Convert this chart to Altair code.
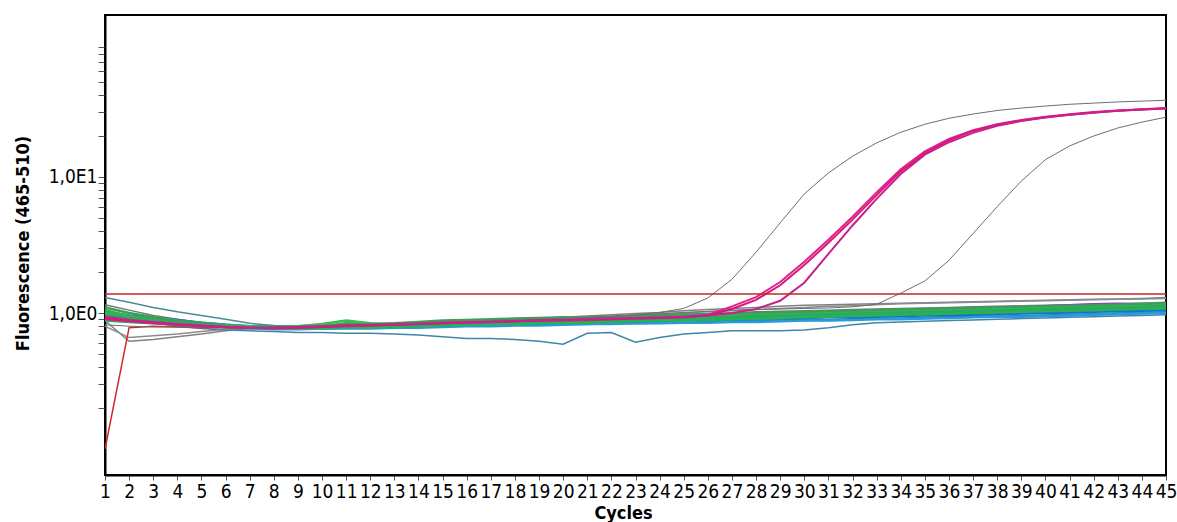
import altair as alt
import pandas as pd

cycles = list(range(1, 46))

series_values = {
    # gray / teal baseline curves (drawn first)
    "Y1": [0.88,0.62,0.64,0.67,0.70,0.74,0.77,0.78,0.79,0.80,
           0.81,0.82,0.83,0.84,0.86,0.87,0.88,0.89,0.91,0.93,
           0.95,0.97,0.99,1.01,1.04,1.06,1.08,1.10,1.12,1.14,
           1.15,1.16,1.17,1.18,1.19,1.20,1.21,1.22,1.23,1.24,
           1.25,1.26,1.27,1.28,1.30],
    "Y2": [0.80,0.66,0.68,0.70,0.73,0.76,0.78,0.79,0.80,0.81,
           0.82,0.83,0.84,0.85,0.86,0.87,0.88,0.89,0.90,0.91,
           0.92,0.94,0.96,0.98,1.00,1.02,1.04,1.06,1.08,1.10,
           1.12,1.13,1.15,1.17,1.18,1.19,1.20,1.21,1.22,1.23,
           1.24,1.25,1.26,1.27,1.28],
    "Y3": [1.15,1.05,0.96,0.90,0.85,0.81,0.79,0.79,0.80,0.81,
           0.82,0.83,0.84,0.85,0.87,0.88,0.89,0.90,0.91,0.92,
           0.93,0.94,0.95,0.97,0.98,0.99,1.00,1.02,1.03,1.04,
           1.05,1.06,1.07,1.08,1.09,1.10,1.11,1.12,1.13,1.14,
           1.15,1.16,1.17,1.18,1.20],
    "T1": [1.30,1.20,1.10,1.02,0.96,0.90,0.84,0.81,0.80,0.80,
           0.81,0.82,0.83,0.84,0.86,0.87,0.88,0.89,0.90,0.91,
           0.92,0.93,0.94,0.95,0.96,0.97,0.98,0.99,1.00,1.01,
           1.02,1.03,1.04,1.05,1.06,1.07,1.08,1.09,1.10,1.11,
           1.12,1.13,1.14,1.16,1.18],
    "T2": [1.00,0.92,0.85,0.80,0.77,0.75,0.74,0.73,0.72,0.72,
           0.71,0.71,0.70,0.69,0.67,0.65,0.65,0.64,0.62,0.59,
           0.71,0.72,0.61,0.66,0.70,0.72,0.74,0.74,0.74,0.75,
           0.78,0.82,0.85,0.86,0.87,0.88,0.89,0.90,0.91,0.92,
           0.93,0.94,0.95,0.96,0.97],
    # blue curves
    "B1": [0.98,0.94,0.90,0.86,0.82,0.79,0.78,0.77,0.77,0.77,
           0.78,0.78,0.78,0.79,0.80,0.81,0.81,0.82,0.82,0.83,
           0.83,0.84,0.84,0.85,0.85,0.86,0.87,0.87,0.88,0.89,
           0.89,0.90,0.91,0.91,0.92,0.93,0.94,0.94,0.95,0.96,
           0.97,0.98,0.99,1.00,1.01],
    "B2": [0.92,0.88,0.85,0.83,0.81,0.79,0.77,0.76,0.76,0.77,
           0.77,0.77,0.78,0.78,0.79,0.80,0.80,0.81,0.81,0.82,
           0.83,0.83,0.84,0.84,0.85,0.85,0.86,0.86,0.87,0.88,
           0.88,0.89,0.90,0.90,0.91,0.92,0.93,0.94,0.94,0.95,
           0.96,0.97,0.98,0.99,1.00],
    "B3": [1.02,0.96,0.92,0.89,0.85,0.82,0.80,0.79,0.79,0.79,
           0.80,0.80,0.81,0.82,0.83,0.83,0.84,0.84,0.85,0.86,
           0.86,0.87,0.87,0.88,0.89,0.89,0.90,0.91,0.91,0.92,
           0.93,0.93,0.94,0.95,0.96,0.96,0.97,0.98,0.99,1.00,
           1.01,1.02,1.03,1.04,1.05],
    "P1": [0.90,0.88,0.86,0.84,0.82,0.80,0.79,0.78,0.79,0.80,
           0.81,0.81,0.82,0.83,0.85,0.86,0.86,0.87,0.88,0.89,
           0.90,0.90,0.91,0.92,0.93,0.94,0.95,0.96,0.97,0.98,
           0.99,1.00,1.01,1.02,1.03,1.04,1.06,1.08,1.10,1.12,
           1.14,1.16,1.17,1.16,1.15],
    "R1": [0.10,0.78,0.80,0.79,0.78,0.78,0.78,0.78,0.79,0.80,
           0.81,0.80,0.81,0.82,0.84,0.85,0.85,0.86,0.87,0.88,
           0.88,0.89,0.90,0.91,0.92,0.93,0.94,0.95,0.96,0.97,
           0.98,0.99,1.00,1.01,1.02,1.03,1.04,1.05,1.06,1.07,
           1.08,1.09,1.10,1.11,1.12],
    # green curves
    "G1": [1.05,0.95,0.90,0.86,0.83,0.80,0.79,0.78,0.78,0.79,
           0.80,0.80,0.81,0.82,0.84,0.85,0.85,0.86,0.86,0.87,
           0.88,0.88,0.89,0.90,0.91,0.92,0.93,0.94,0.95,0.96,
           0.97,0.98,0.99,1.00,1.01,1.02,1.03,1.04,1.05,1.06,
           1.07,1.08,1.09,1.10,1.11],
    "G2": [0.95,0.90,0.87,0.84,0.82,0.80,0.79,0.79,0.80,0.81,
           0.82,0.82,0.83,0.85,0.86,0.87,0.88,0.88,0.89,0.90,
           0.91,0.91,0.92,0.93,0.94,0.95,0.96,0.97,0.98,0.99,
           1.00,1.01,1.02,1.03,1.04,1.05,1.06,1.07,1.08,1.09,
           1.10,1.11,1.12,1.14,1.15],
    "G3": [1.10,1.00,0.93,0.88,0.85,0.82,0.80,0.79,0.79,0.80,
           0.84,0.83,0.84,0.86,0.88,0.89,0.90,0.91,0.92,0.93,
           0.93,0.94,0.95,0.96,0.97,0.98,0.99,1.00,1.01,1.02,
           1.03,1.04,1.05,1.06,1.07,1.08,1.09,1.10,1.11,1.12,
           1.13,1.14,1.15,1.17,1.18],
    "G4": [0.88,0.86,0.84,0.82,0.80,0.79,0.78,0.77,0.77,0.77,
           0.78,0.78,0.79,0.80,0.81,0.82,0.83,0.83,0.84,0.85,
           0.85,0.86,0.87,0.88,0.88,0.89,0.90,0.91,0.92,0.93,
           0.94,0.95,0.96,0.97,0.98,0.99,1.00,1.01,1.02,1.03,
           1.04,1.05,1.06,1.07,1.08],
    "G5": [1.00,0.93,0.88,0.84,0.81,0.80,0.79,0.78,0.80,0.83,
           0.88,0.84,0.82,0.83,0.85,0.86,0.87,0.87,0.88,0.89,
           0.90,0.90,0.91,0.92,0.93,0.94,0.95,0.96,0.97,0.98,
           0.99,1.00,1.01,1.02,1.03,1.04,1.05,1.06,1.07,1.08,
           1.09,1.10,1.11,1.12,1.13],
    "G6": [0.98,0.92,0.88,0.85,0.82,0.80,0.78,0.78,0.79,0.80,
           0.81,0.81,0.82,0.83,0.85,0.86,0.86,0.87,0.87,0.88,
           0.89,0.89,0.90,0.91,0.92,0.93,0.94,0.95,0.96,0.97,
           0.98,0.99,1.00,1.01,1.02,1.03,1.04,1.05,1.06,1.07,
           1.08,1.09,1.10,1.11,1.13],
    # amplifying curves
    "A1": [0.95,0.90,0.86,0.83,0.81,0.79,0.78,0.78,0.79,0.80,
           0.81,0.81,0.82,0.83,0.85,0.86,0.87,0.88,0.89,0.90,
           0.92,0.94,0.97,1.01,1.08,1.29,1.77,2.80,4.60,7.50,
           10.7,14.2,17.8,21.3,24.4,27.0,29.0,30.8,32.1,33.2,
           34.2,34.9,35.6,36.1,36.6],
    "A2": [0.82,0.80,0.79,0.79,0.78,0.78,0.78,0.79,0.80,0.81,
           0.82,0.83,0.84,0.85,0.86,0.87,0.88,0.89,0.90,0.91,
           0.93,0.95,0.97,0.99,1.01,1.03,1.05,1.06,1.07,1.08,
           1.09,1.11,1.16,1.40,1.72,2.44,3.84,6.05,9.33,13.4,
           16.9,20.0,22.9,25.3,27.5],
    "M1": [0.92,0.88,0.85,0.82,0.80,0.79,0.78,0.78,0.78,0.79,
           0.81,0.81,0.82,0.83,0.85,0.86,0.86,0.87,0.88,0.89,
           0.90,0.90,0.91,0.92,0.93,0.97,1.12,1.31,1.69,2.38,
           3.46,5.10,7.70,11.4,15.4,19.0,22.1,24.4,26.2,27.7,
           28.9,30.0,30.8,31.5,32.1],
    "M2": [0.90,0.87,0.84,0.82,0.80,0.79,0.78,0.77,0.78,0.79,
           0.80,0.81,0.82,0.83,0.84,0.85,0.86,0.87,0.88,0.88,
           0.89,0.90,0.91,0.92,0.93,0.96,1.07,1.25,1.60,2.25,
           3.28,4.86,7.35,11.0,14.9,18.6,21.8,24.2,26.0,27.5,
           28.7,29.8,30.6,31.3,31.9],
    "M3": [0.94,0.89,0.86,0.83,0.81,0.79,0.78,0.78,0.79,0.80,
           0.81,0.82,0.82,0.83,0.84,0.85,0.86,0.87,0.88,0.89,
           0.90,0.91,0.92,0.93,0.94,0.96,1.00,1.07,1.23,1.67,
           2.72,4.40,6.90,10.5,14.6,18.0,21.1,23.8,25.8,27.4,
           28.6,29.7,30.6,31.3,31.9],
}

series_colors = {
    "Y1": "#808080", "Y2": "#8c8c8c", "Y3": "#6a7a70", "T1": "#4a8a9a",
    "T2": "#3f86a8", "B1": "#1f7fe0", "B2": "#2a9ad8", "B3": "#1a70c8",
    "P1": "#8a3fc8", "R1": "#d02828",
    "G1": "#2eb24c", "G2": "#1ec43c", "G3": "#3c9e5a", "G4": "#22b455",
    "G5": "#36c04a", "G6": "#2ea860",
    "A1": "#6e6e6e", "A2": "#6e6e6e",
    "M1": "#e0208c", "M2": "#d81878", "M3": "#c8208f",
}
series_widths = {
    "Y1": 1.5, "Y2": 1.5, "Y3": 1.5, "T1": 1.5, "T2": 1.5,
    "B1": 2.5, "B2": 2.5, "B3": 2.5, "P1": 2.5, "R1": 1.5,
    "G1": 2.5, "G2": 2.5, "G3": 2.5, "G4": 2.5, "G5": 2.5, "G6": 2.5,
    "A1": 1, "A2": 1, "M1": 2, "M2": 2, "M3": 2,
}

threshold = [1.38]
y_tick_values = [0.2, 0.3, 0.4, 0.5, 0.6, 0.7, 0.8, 0.9, 1,
                 2, 3, 4, 5, 6, 7, 8, 9, 10,
                 20, 30, 40, 50, 60, 70, 80, 90]

rows = []
order_names = list(series_values.keys())
for i, name in enumerate(order_names):
    vals = series_values[name]
    assert len(vals) == 45, name
    for c, v in zip(cycles, vals):
        rows.append({"series": name, "cycle": c, "value": v,
                     "w": series_widths[name], "k": i})
df = pd.DataFrame(rows)

FONT = "DejaVu Sans Condensed, Liberation Sans Narrow, Arial, sans-serif"
Y_DOMAIN = [0.0645, 155]

x_enc = alt.X(
    "cycle:Q",
    scale=alt.Scale(domain=[1, 45], nice=False, zero=False),
    axis=alt.Axis(
        values=cycles, format="d", labelOverlap=False, labelFlush=False,
        labelBound=False, tickSize=5, tickColor="#555", labelPadding=2,
        labelFont=FONT, labelFontSize=19, labelColor="black",
        domainColor="black", domainWidth=2, grid=False,
        title="Cycles", titleFont=FONT, titleFontSize=18,
        titleFontWeight="bold", titleColor="black",
        titleX=518, titleY=38, titleAlign="center", titleBaseline="middle",
    ),
)
y_enc = alt.Y(
    "value:Q",
    scale=alt.Scale(type="log", domain=Y_DOMAIN, nice=False),
    axis=alt.Axis(
        values=y_tick_values,
        labelExpr="datum.value == 1 ? '1,0E0' : (datum.value == 10 ? '1,0E1' : '')",
        labelOverlap=False, tickSize=7, tickColor="#555", labelPadding=1,
        labelFont=FONT, labelFontSize=19, labelColor="black",
        domainColor="black", domainWidth=2, grid=False,
        title="Fluorescence (465-510)", titleFont=FONT, titleFontSize=18,
        titleFontWeight="bold", titleColor="black", titleAngle=-90,
        titleX=-82, titleY=228, titleAlign="center", titleBaseline="middle",
    ),
)

lines = alt.Chart(df).mark_line(interpolate="linear", clip=True).encode(
    x=x_enc,
    y=y_enc,
    detail="series:N",
    order="cycle:Q",
    color=alt.Color("series:N",
                    scale=alt.Scale(domain=order_names,
                                    range=[series_colors[n] for n in order_names]),
                    sort=order_names,
                    legend=None),
    strokeWidth=alt.StrokeWidth("w:Q", scale=None),
)

thr = alt.Chart(pd.DataFrame({"t": threshold})).mark_rule(
    color="#c0282a", strokeWidth=1.5
).encode(y=alt.Y("t:Q", scale=alt.Scale(type="log", domain=Y_DOMAIN, nice=False)))

chart = alt.layer(lines, thr).properties(
    width=1061, height=460,
    autosize=alt.AutoSizeParams(type="none"),
    padding={"left": 105, "top": 15, "right": 11, "bottom": 47},
    background="white",
).configure_view(stroke="black", strokeWidth=2)

chart.save("out.html", embed_options={"renderer": "svg", "actions": False})
